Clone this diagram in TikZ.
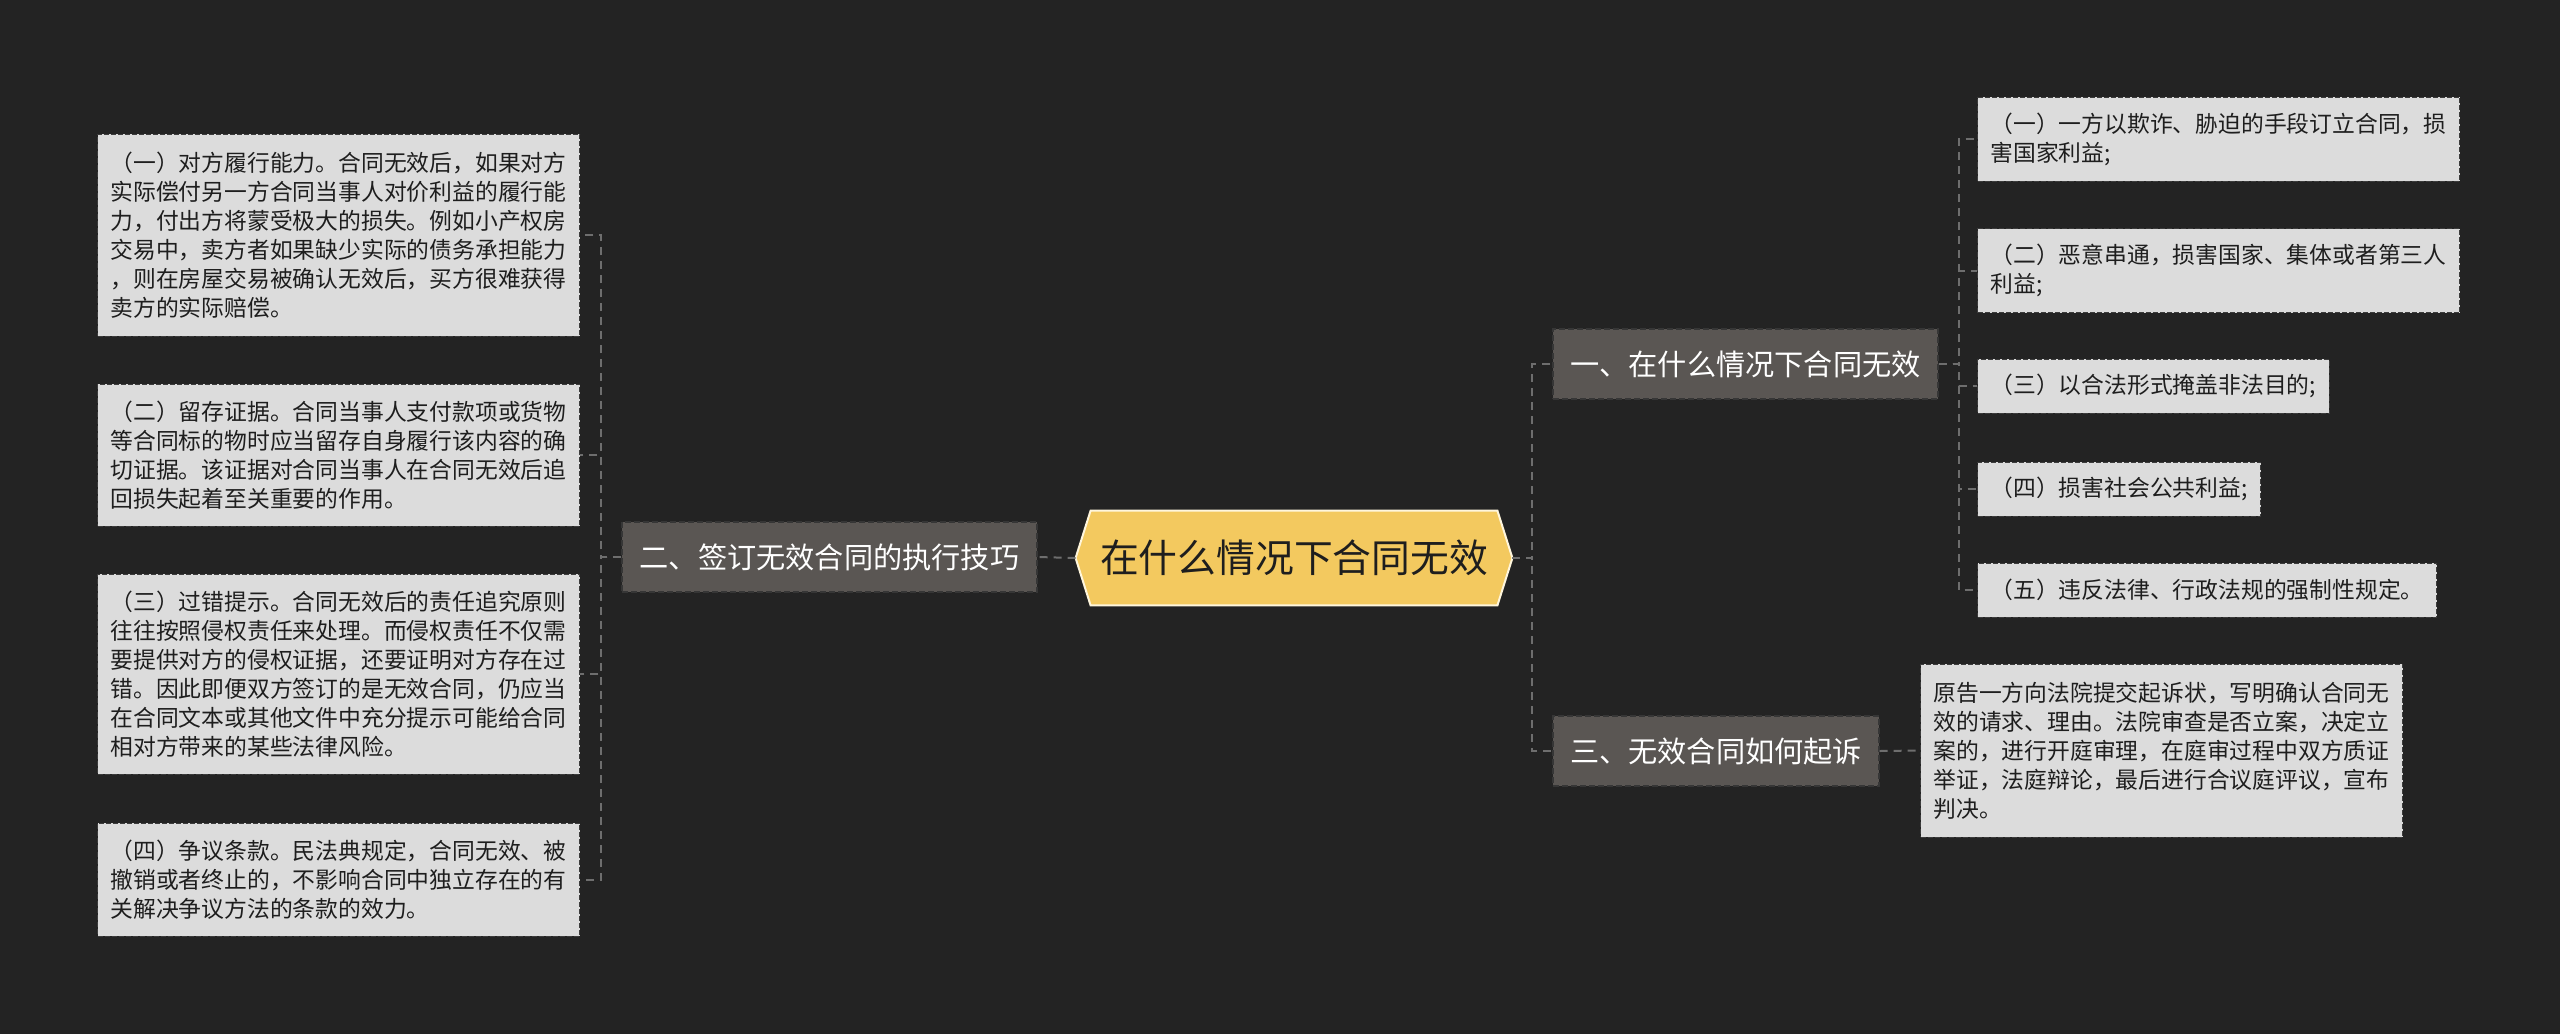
\documentclass[tikz,border=0pt]{standalone}
\usepackage{fontspec}
\setmainfont{Noto Sans CJK SC}
\usetikzlibrary{backgrounds}
\definecolor{bg}{HTML}{232323}
\definecolor{leaffill}{HTML}{DCDCDC}
\definecolor{leafline}{HTML}{3C3C3C}
\definecolor{brfill}{HTML}{5A5653}
\definecolor{brline}{HTML}{363636}
\definecolor{rootfill}{HTML}{F3C95F}
\definecolor{rootline}{HTML}{FFF6DC}
\definecolor{conncol}{HTML}{6E6E6E}
\definecolor{darktext}{HTML}{1E1E1E}
\tikzset{
  leaf/.style={draw=leafline, fill=leaffill, dash pattern=on 2.5pt off 1pt, line width=0.5pt,
    align=left, inner xsep=6.5pt, inner ysep=0pt, text=darktext, anchor=west,
    font=\fontsize{11.4}{14.5}\selectfont},
  branch/.style={draw=brline, fill=brfill, dash pattern=on 3pt off 1.5pt, line width=0.6pt,
    text=white, inner xsep=8pt, inner ysep=0pt, minimum height=35pt,
    font=\fontsize{14.6}{17}\selectfont},
  rootnode/.style={inner sep=0pt, minimum width=218pt, minimum height=47pt, text=darktext,
    font=\fontsize{19.4}{22}\selectfont},
  conn/.style={draw=conncol, line width=1pt, dash pattern=on 4pt off 3pt},
}
\begin{document}
\begin{tikzpicture}[x=0.5pt,y=-0.5pt]
\node[rootnode] (root) at (1294,558) {在什么情况下合同无效};
\begin{scope}[on background layer]
  \fill[bg] (0,0) rectangle (2560,1034);
  \filldraw[fill=rootfill, draw=rootline, line width=1pt, line join=miter]
    (root.west) -- ([xshift=7.5pt]root.north west) -- ([xshift=-7.5pt]root.north east)
    -- (root.east) -- ([xshift=-7.5pt]root.south east) -- ([xshift=7.5pt]root.south west) -- cycle;
\end{scope}

% left branch
\node[branch, minimum width=207.5pt] (n2) at (829.5,557) {二、签订无效合同的执行技巧};
\node[leaf, minimum height=101pt] (L1) at (97,235) {（一）对方履行能力。合同无效后，如果对方\\实际偿付另一方合同当事人对价利益的履行能\\力，付出方将蒙受极大的损失。例如小产权房\\交易中，卖方者如果缺少实际的债务承担能力\\，则在房屋交易被确认无效后，买方很难获得\\卖方的实际赔偿。};
\node[leaf, minimum height=71pt] (L2) at (97,455) {（二）留存证据。合同当事人支付款项或货物\\等合同标的物时应当留存自身履行该内容的确\\切证据。该证据对合同当事人在合同无效后追\\回损失起着至关重要的作用。};
\node[leaf, minimum height=100pt] (L3) at (97,674) {（三）过错提示。合同无效后的责任追究原则\\往往按照侵权责任来处理。而侵权责任不仅需\\要提供对方的侵权证据，还要证明对方存在过\\错。因此即便双方签订的是无效合同，仍应当\\在合同文本或其他文件中充分提示可能给合同\\相对方带来的某些法律风险。};
\node[leaf, minimum height=56.5pt] (L4) at (97,879.5) {（四）争议条款。民法典规定，合同无效、被\\撤销或者终止的，不影响合同中独立存在的有\\关解决争议方法的条款的效力。};

% right branches
\node[branch, minimum width=192.5pt] (n1) at (1745.5,364) {一、在什么情况下合同无效};
\node[branch, minimum width=163pt] (n3) at (1716,751) {三、无效合同如何起诉};
\node[leaf, minimum height=42pt] (R1) at (1977,139) {（一）一方以欺诈、胁迫的手段订立合同，损\\害国家利益;};
\node[leaf, minimum height=42pt] (R2) at (1977,270.5) {（二）恶意串通，损害国家、集体或者第三人\\利益;};
\node[leaf, minimum height=27pt] (R3) at (1977,386) {（三）以合法形式掩盖非法目的;};
\node[leaf, minimum height=27pt] (R4) at (1977,489) {（四）损害社会公共利益;};
\node[leaf, minimum height=27pt] (R5) at (1977,590) {（五）违反法律、行政法规的强制性规定。};
\node[leaf, minimum height=86.5pt] (P) at (1920,750.5) {原告一方向法院提交起诉状，写明确认合同无\\效的请求、理由。法院审查是否立案，决定立\\案的，进行开庭审理，在庭审过程中双方质证\\举证，法庭辩论，最后进行合议庭评议，宣布\\判决。};

% connectors
\draw[conn] (root.west) -- (n2.east);
\foreach \t in {L1,L2,L3,L4} \draw[conn] (n2.west) -- ++(-20,0) |- (\t.east);
\foreach \t in {n1,n3} \draw[conn] (root.east) -- ++(20,0) |- (\t.west);
\foreach \t in {R1,R2,R3,R4,R5} \draw[conn] (n1.east) -- ++(20,0) |- (\t.west);
\draw[conn] (n3.east) -- (P.west);
\end{tikzpicture}
\end{document}
